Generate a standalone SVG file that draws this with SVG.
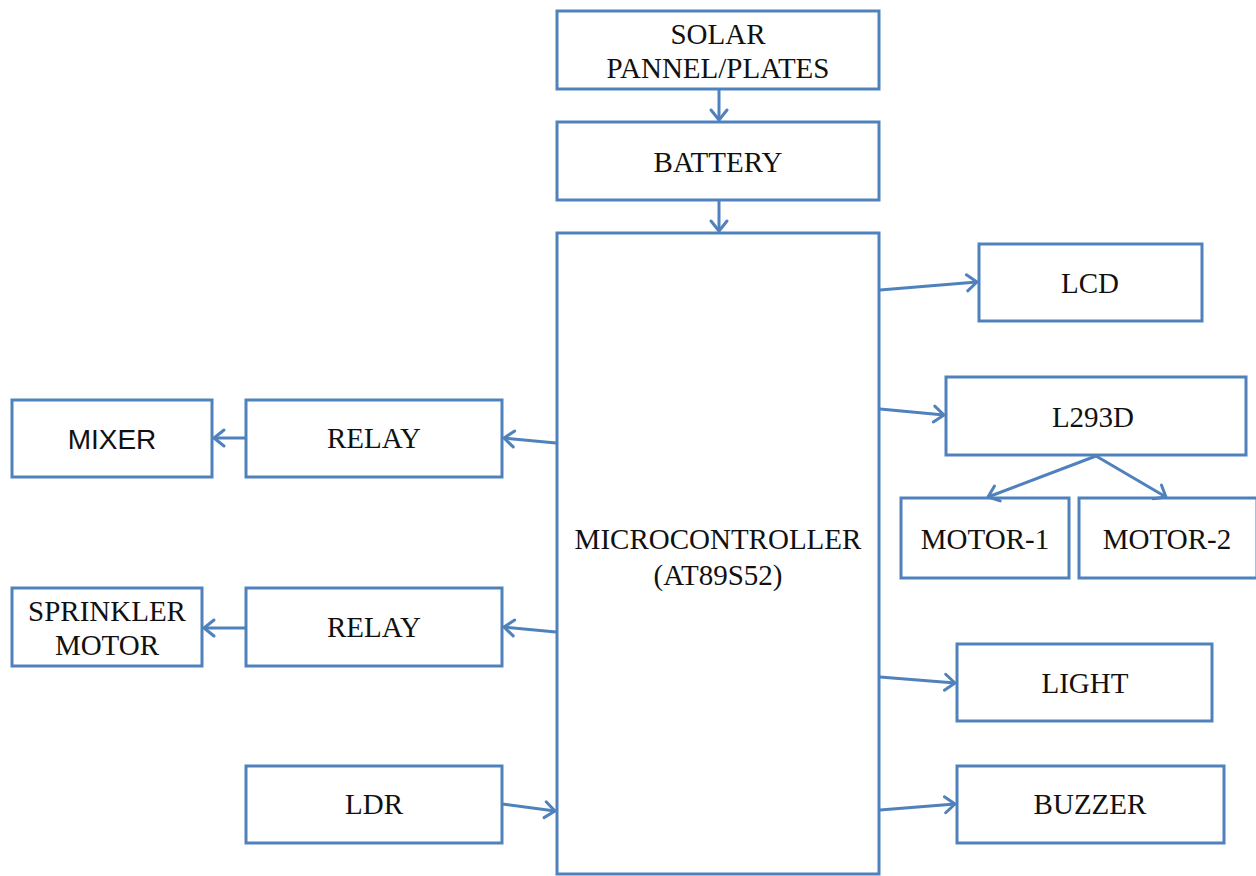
<svg xmlns="http://www.w3.org/2000/svg" width="1256" height="876" viewBox="0 0 1256 876">
<defs>
<style>
.box{fill:#fff;stroke:#4f81bd;stroke-width:3}
.t{font-family:"Liberation Serif","Times New Roman",serif;font-size:29px;fill:#111;text-anchor:middle}
.s{font-family:"Liberation Sans",Arial,sans-serif;font-size:28px;fill:#111;text-anchor:middle}
.c{fill:none;stroke:#4f81bd;stroke-width:3}
</style>
<marker id="ah" markerUnits="userSpaceOnUse" markerWidth="16" markerHeight="20" refX="11" refY="8" orient="auto" overflow="visible">
<path d="M1,0 L11,8 L1,16" fill="none" stroke="#4f81bd" stroke-width="3" stroke-linecap="round" stroke-linejoin="round"/>
</marker>
</defs>
<rect width="1256" height="876" fill="#fff"/>
<g id="solar"><rect class="box" x="557" y="11" width="322" height="78"/><text class="t" x="718" y="44">SOLAR</text><text class="t" x="718" y="78">PANNEL/PLATES</text></g>
<g id="battery"><rect class="box" x="557" y="122" width="322" height="78"/><text class="t" x="718" y="172">BATTERY</text></g>
<g id="micro"><rect class="box" x="557" y="233" width="322" height="641"/><text class="t" x="718" y="549">MICROCONTROLLER</text><text class="t" x="718" y="585">(AT89S52)</text></g>
<g id="lcd"><rect class="box" x="979" y="244" width="223" height="77"/><text class="t" x="1090" y="293">LCD</text></g>
<g id="l293d"><rect class="box" x="946" y="377" width="300" height="78"/><text class="t" x="1093" y="427">L293D</text></g>
<g id="motor1"><rect class="box" x="901" y="498" width="168" height="80"/><text class="t" x="985" y="549">MOTOR-1</text></g>
<g id="motor2"><rect class="box" x="1079" y="498" width="178" height="80"/><text class="t" x="1167" y="549">MOTOR-2</text></g>
<g id="light"><rect class="box" x="957" y="644" width="255" height="77"/><text class="t" x="1085" y="693">LIGHT</text></g>
<g id="buzzer"><rect class="box" x="957" y="766" width="267" height="77"/><text class="t" x="1090" y="814">BUZZER</text></g>
<g id="mixer"><rect class="box" x="12" y="400" width="200" height="77"/><text class="s" x="112" y="449">MIXER</text></g>
<g id="relay1"><rect class="box" x="246" y="400" width="256" height="77"/><text class="t" x="374" y="448">RELAY</text></g>
<g id="sprinkler"><rect class="box" x="12" y="588" width="190" height="78"/><text class="t" x="107" y="621">SPRINKLER</text><text class="t" x="107" y="655">MOTOR</text></g>
<g id="relay2"><rect class="box" x="246" y="588" width="256" height="78"/><text class="t" x="374" y="637">RELAY</text></g>
<g id="ldr"><rect class="box" x="246" y="766" width="256" height="77"/><text class="t" x="374" y="814">LDR</text></g>
<g id="connectors">
<line class="c" x1="719" y1="89" x2="719" y2="120" marker-end="url(#ah)"/>
<line class="c" x1="719" y1="200" x2="719" y2="231" marker-end="url(#ah)"/>
<line class="c" x1="880" y1="290" x2="977" y2="282" marker-end="url(#ah)"/>
<line class="c" x1="880" y1="409" x2="944" y2="415" marker-end="url(#ah)"/>
<line class="c" x1="1096" y1="456" x2="988" y2="497" marker-end="url(#ah)"/>
<line class="c" x1="1096" y1="456" x2="1166" y2="497" marker-end="url(#ah)"/>
<line class="c" x1="880" y1="677" x2="955" y2="683" marker-end="url(#ah)"/>
<line class="c" x1="880" y1="810" x2="955" y2="804" marker-end="url(#ah)"/>
<line class="c" x1="556" y1="443" x2="504" y2="438" marker-end="url(#ah)"/>
<line class="c" x1="246" y1="438" x2="214" y2="438" marker-end="url(#ah)"/>
<line class="c" x1="556" y1="632" x2="504" y2="627" marker-end="url(#ah)"/>
<line class="c" x1="246" y1="628" x2="204" y2="628" marker-end="url(#ah)"/>
<line class="c" x1="502" y1="804" x2="555" y2="811" marker-end="url(#ah)"/>
</g>
</svg>
